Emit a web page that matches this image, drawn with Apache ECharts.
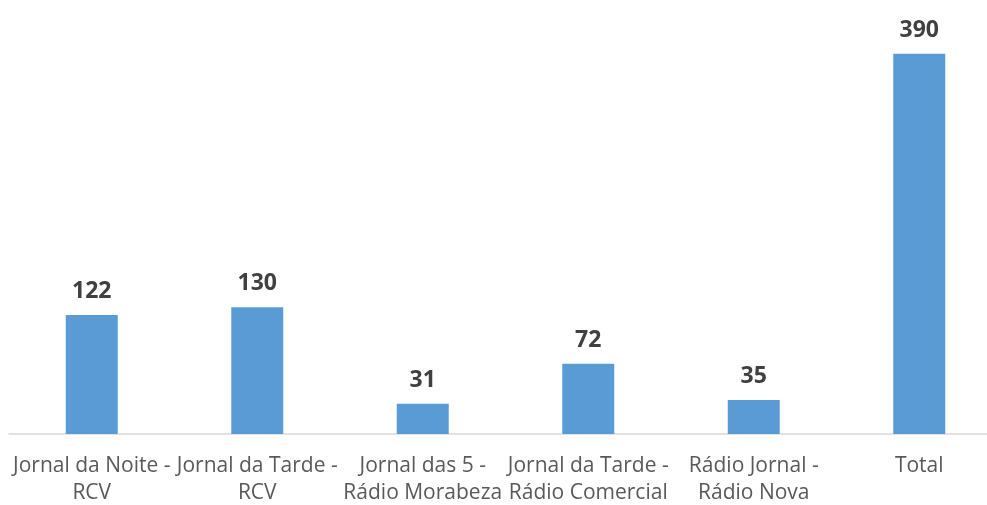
<!DOCTYPE html>
<html>
<head>
<meta charset="utf-8">
<script src="https://cdn.jsdelivr.net/npm/echarts@6/dist/echarts.min.js"></script>
<style>
  html, body { margin: 0; padding: 0; background: #fff; }
  #chart { width: 987px; height: 505px; }
</style>
</head>
<body>
<div id="chart"></div>
<script>
const categories = [
  'Jornal da Noite - RCV',
  'Jornal da Tarde - RCV',
  'Jornal das 5 - Rádio Morabeza',
  'Jornal da Tarde - Rádio Comercial',
  'Rádio Jornal - Rádio Nova',
  'Total'
]
const values = [122, 130, 31, 72, 35, 390]

const chart = echarts.init(document.getElementById('chart'))
chart.setOption({
  animation: false,
  textStyle: { fontFamily: 'Open Sans' },
  grid: { left: 9, width: 993, top: 44, bottom: 71, outerBoundsMode: 'none', containLabel: false },
  xAxis: {
    type: 'category',
    data: categories,
    axisLine: { lineStyle: { color: '#d9d9d9', width: 1.5 } },
    axisTick: { show: false },
    axisLabel: {
      interval: 0,
      margin: 19,
      color: '#595959',
      fontSize: 21,
      lineHeight: 27,
      // break after the dash, as in the source chart
      formatter: v => v.replace(' - ', ' -\n')
    }
  },
  yAxis: {
    type: 'value',
    min: 0,
    max: 400,
    show: false,
    splitLine: { show: false }
  },
  series: [{
    type: 'bar',
    data: values,
    barWidth: 52,
    itemStyle: { color: '#5b9bd5' },
    label: {
      show: true,
      position: 'top',
      distance: 12,
      color: '#404040',
      fontSize: 23,
      fontWeight: 'bold'
    }
  }]
})
</script>
</body>
</html>
